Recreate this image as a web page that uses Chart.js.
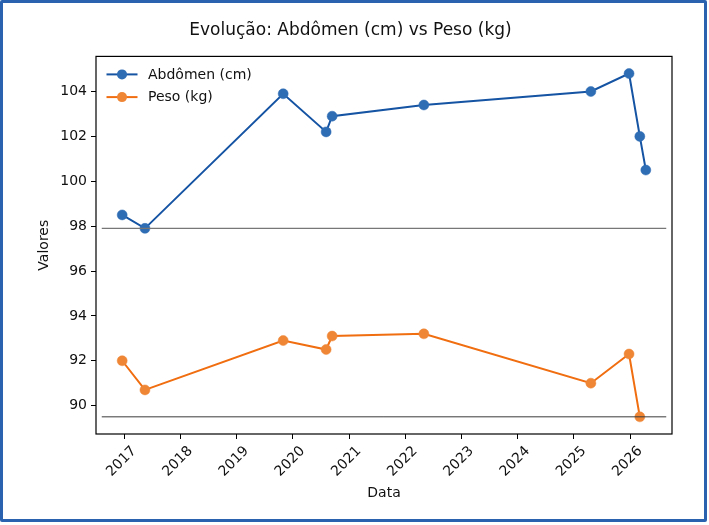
<!DOCTYPE html>
<html>
<head>
<meta charset="utf-8">
<script src="https://cdn.jsdelivr.net/npm/chart.js@4.4.1/dist/chart.umd.min.js"></script>
<style>
  html, body { margin: 0; padding: 0; background: #fff; }
  body { width: 709px; height: 525px; position: relative; overflow: hidden; }
  #c { position: absolute; left: 0; top: 0; }
  #frame { position: absolute; left: 0; top: 0; width: 707px; height: 522px; box-sizing: border-box;
           border: 3px solid #2a62b0; border-radius: 2px; pointer-events: none; }
</style>
</head>
<body>
<canvas id="c" width="700" height="525"></canvas>
<div id="frame"></div>
<script>
// ---- data ----
const dates = ['2016-12-19','2017-05-16','2019-10-31','2020-08-05','2020-09-13','2022-05-02','2025-04-21','2025-12-25','2026-03-05','2026-04-13'];
const abdomen = [98.5, 97.9, 103.9, 102.2, 102.9, 103.4, 104.0, 104.8, 102.0, 100.5];
const peso = [92.0, 90.7, 92.9, 92.5, 93.1, 93.2, 91.0, 92.3, 89.5, null];
const yearTicks = [2017, 2018, 2019, 2020, 2021, 2022, 2023, 2024, 2025, 2026];
const valueTicks = [90, 92, 94, 96, 98, 100, 102, 104];
const labels = ['Abdômen (cm)', 'Peso (kg)'];
const titleText = 'Evolução: Abdômen (cm) vs Peso (kg)';
const xTitle = 'Data';
const yTitle = 'Valores';

const FONT = "'DejaVu Sans', sans-serif";
const toMs = d => Date.parse(d + 'T00:00:00Z');
const xs = dates.map(toMs);

function pts(vals) {
  return vals.map((v, i) => ({ x: xs[i], y: v }));
}

// axis limits with 5% margin (matplotlib style)
const allY = abdomen.concat(peso).filter(v => v !== null);
const yMinD = Math.min(...allY), yMaxD = Math.max(...allY);
const yPad = (yMaxD - yMinD) * 0.05;
const xMinD = Math.min(...xs), xMaxD = Math.max(...xs);
const xPad = (xMaxD - xMinD) * 0.05;

const minAbd = Math.min(...abdomen);
const minPeso = Math.min(...peso.filter(v => v !== null));

const blueLine = '#1553a3', blueMark = '#2e6cb4';
const orLine = '#f06d10', orMark = '#ef8636';

const framePlugin = {
  id: 'framePlugin',
  afterDatasetsDraw(chart) {
    const { ctx, chartArea: a, scales } = chart;
    const w = a.right - a.left;
    ctx.save();
    // horizontal reference lines at series minimums
    const hl = [[minAbd, '#777777', 1.3], [minPeso, '#3a3a3a', 1.0]];
    hl.forEach(([v, col, lw]) => {
      const y = scales.y.getPixelForValue(v);
      ctx.beginPath();
      ctx.strokeStyle = col; ctx.lineWidth = lw;
      ctx.moveTo(a.left + 0.01 * w, y);
      ctx.lineTo(a.left + 0.99 * w, y);
      ctx.stroke();
    });
    // axes frame
    ctx.strokeStyle = '#000'; ctx.lineWidth = 1.2;
    ctx.strokeRect(a.left, a.top, w, a.bottom - a.top);
    // legend
    const sets = chart.data.datasets;
    sets.forEach((ds, i) => {
      const y = a.top + 18 + i * 22.7;
      const x0 = a.left + 10.5;
      ctx.beginPath();
      ctx.strokeStyle = ds.borderColor; ctx.lineWidth = 2;
      ctx.moveTo(x0, y); ctx.lineTo(x0 + 31, y); ctx.stroke();
      ctx.beginPath();
      ctx.fillStyle = ds.pointBackgroundColor;
      ctx.arc(x0 + 15.5, y, 5, 0, Math.PI * 2); ctx.fill();
      ctx.fillStyle = '#111';
      ctx.font = '14px ' + FONT;
      ctx.textBaseline = 'middle';
      ctx.textAlign = 'left';
      ctx.fillText(ds.label, x0 + 41.5, y + 0.5);
    });
    ctx.restore();
  }
};

new Chart(document.getElementById('c'), {
  type: 'line',
  data: {
    datasets: [
      { label: labels[0], data: pts(abdomen), borderColor: blueLine, backgroundColor: blueMark,
        pointBackgroundColor: blueMark, pointBorderColor: blueMark, pointRadius: 5, pointBorderWidth: 0.5,
        borderWidth: 2, tension: 0, fill: false },
      { label: labels[1], data: pts(peso), borderColor: orLine, backgroundColor: orMark,
        pointBackgroundColor: orMark, pointBorderColor: orMark, pointRadius: 5, pointBorderWidth: 0.5,
        borderWidth: 2, tension: 0, fill: false }
    ]
  },
  options: {
    responsive: false,
    animation: false,
    devicePixelRatio: 1,
    layout: { padding: { left: 29, right: 28, top: 0, bottom: 0 } },
    plugins: {
      legend: { display: false },
      tooltip: { enabled: false },
      title: { display: true, text: titleText, color: '#111',
               font: { family: FONT, size: 17, weight: 'normal' },
               padding: { top: 20, bottom: 16 } }
    },
    scales: {
      x: {
        type: 'linear',
        min: xMinD - xPad, max: xMaxD + xPad,
        afterBuildTicks: s => { s.ticks = yearTicks.map(y => ({ value: Date.UTC(y, 0, 1) })); },
        afterFit: s => { s.height = 91; },
        grid: { drawOnChartArea: false, drawTicks: true, tickLength: 5, tickColor: '#000', tickWidth: 1 },
        border: { display: false },
        ticks: {
          autoSkip: false, minRotation: 45, maxRotation: 45, labelOffset: 10, padding: 4,
          color: '#111', font: { family: FONT, size: 14 },
          callback: (v) => String(new Date(v).getUTCFullYear())
        },
        title: { display: true, text: xTitle, color: '#111', font: { family: FONT, size: 14 },
                 padding: { top: 0, bottom: 23 } }
      },
      y: {
        type: 'linear',
        min: yMinD - yPad, max: yMaxD + yPad,
        afterBuildTicks: s => { s.ticks = valueTicks.map(v => ({ value: v })); },
        afterFit: s => { s.width = 67; },
        grid: { drawOnChartArea: false, drawTicks: true, tickLength: 5, tickColor: '#000', tickWidth: 1 },
        border: { display: false },
        ticks: { padding: 4, color: '#111', font: { family: FONT, size: 14 } },
        title: { display: true, text: yTitle, color: '#111', font: { family: FONT, size: 14 },
                 padding: { top: 7, bottom: 0 } }
      }
    }
  },
  plugins: [framePlugin]
});
</script>
</body>
</html>
